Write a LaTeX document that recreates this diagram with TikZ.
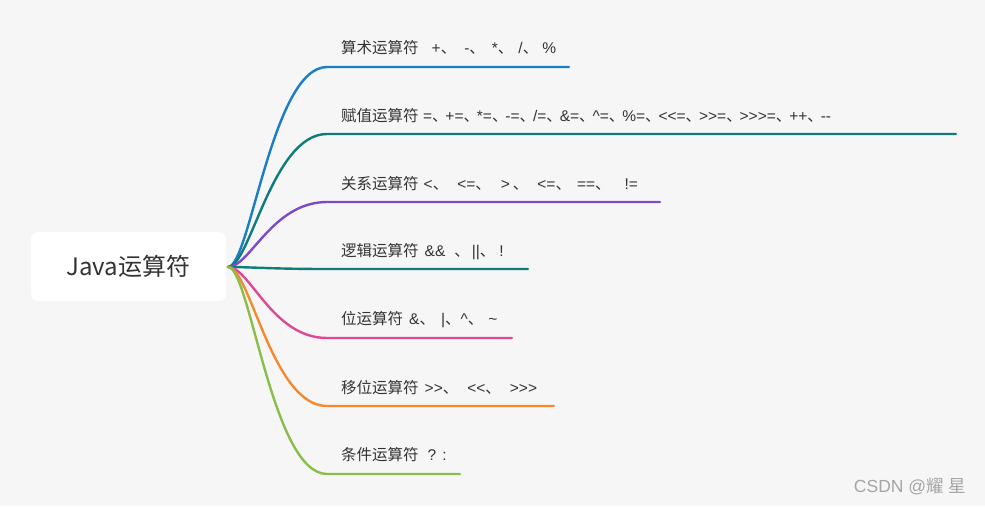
\documentclass[tikz,border=0pt]{standalone}
\usepackage{fontspec}
\setmainfont{Liberation Sans}
\newfontfamily\cjk{Noto Sans CJK SC}
\newcommand\cj[1]{{\cjk #1}}
\newcommand\dn{{\cjk 、}}
\newcommand\dnk{{\cjk 、}\kern-2.1pt}
\newcommand\gp[1]{\hspace{#1pt}}
\definecolor{bgc}{RGB}{246,246,246}
\definecolor{txt}{RGB}{51,51,51}
\definecolor{cblue}{RGB}{27,125,196}
\definecolor{cteal}{RGB}{15,124,124}
\definecolor{cpurple}{RGB}{125,75,200}
\definecolor{cpink}{RGB}{222,72,150}
\definecolor{corange}{RGB}{244,137,48}
\definecolor{cgreen}{RGB}{138,189,74}
\tikzset{
  rootbox/.style={fill=white, rounded corners=7pt, minimum width=195pt, minimum height=69pt, inner sep=0pt, text=txt, font=\cjk\fontsize{24}{28}\selectfont},
  lbl/.style={anchor=west, inner sep=0pt, text=txt, font=\fontsize{15.5}{18}\selectfont},
  branch/.style={line width=2.4pt, line cap=round},
  wm/.style={inner sep=0pt, text={rgb,255:red,165;green,165;blue,165}, font=\fontsize{17.5}{20}\selectfont}
}
\begin{document}
\begin{tikzpicture}[x=1pt,y=-1pt]
\useasboundingbox (0,0) rectangle (985,506);
\fill[bgc] (0,0) rectangle (985,506);
\node[rootbox] (root) at (128.5,266.5) {Java运算符};
\coordinate (s) at (228,267);
% branch ends
\coordinate (e1) at (327,67);  \coordinate (t1) at (569,67);
\coordinate (e2) at (327,134); \coordinate (t2) at (956,134);
\coordinate (e3) at (327,202); \coordinate (t3) at (660,202);
\coordinate (e4) at (327,269); \coordinate (t4) at (528,269);
\coordinate (e5) at (327,338); \coordinate (t5) at (512,338);
\coordinate (e6) at (327,406); \coordinate (t6) at (554,406);
\coordinate (e7) at (327,474); \coordinate (t7) at (460,474);
\draw[branch, cblue]   (s) .. controls +(22,0) and +(-55,0) .. (e1) -- (t1);
\draw[branch, cteal]   (s) .. controls +(22,0) and +(-55,0) .. (e2) -- (t2);
\draw[branch, cpurple] (s) .. controls +(22,0) and +(-55,0) .. (e3) -- (t3);
\draw[branch, cteal]   (s) .. controls +(22,0) and +(-55,0) .. (e4) -- (t4);
\draw[branch, cpink]   (s) .. controls +(22,0) and +(-55,0) .. (e5) -- (t5);
\draw[branch, corange] (s) .. controls +(22,0) and +(-55,0) .. (e6) -- (t6);
\draw[branch, cgreen]  (s) .. controls +(22,0) and +(-55,0) .. (e7) -- (t7);
% labels
\node[lbl] (l1) at (341,48)  {\cj{算术运算符}\gp{13}+\dn\gp{8}-\dn\gp{7}*\dn\gp{5}/\dn\gp{4}\%};
\node[lbl] (l2) at (341,116) {\cj{赋值运算符} =\dnk+{}=\dnk*=\dnk-{}=\dnk/=\dnk\&=\dnk\^{}=\dnk\%=\dnk<{}<{}=\dnk>{}>{}=\dnk>{}>{}>{}=\dnk+{}+\dnk-{}-};
\node[lbl] (l3) at (341,184) {\cj{关系运算符}\gp{5}<\dn\gp{9}<{}=\dn\gp{10}>\gp{3}\dn\gp{9}<{}=\dn\gp{6}={}=\dn\gp{14}!=};
\node[lbl] (l4) at (341,252) {\cj{逻辑运算符}\gp{6}\&\&\gp{9}\dn\gp{2}||\dn\gp{4}!};
\node[lbl] (l5) at (341,320) {\cj{位运算符}\gp{6}\&\dn\gp{6}|\dn\^{}\dn\gp{5}\textasciitilde};
\node[lbl] (l6) at (341,388) {\cj{移位运算符}\gp{6}>{}>\dn\gp{9}<{}<\dn\gp{9}>{}>{}>};
\node[lbl] (l7) at (341,455) {\cj{条件运算符}\gp{9}?\gp{6}:};
\node[wm] (wm) at (910,487) {CSDN @\cj{耀}\ \cj{星}};
\end{tikzpicture}
\end{document}
